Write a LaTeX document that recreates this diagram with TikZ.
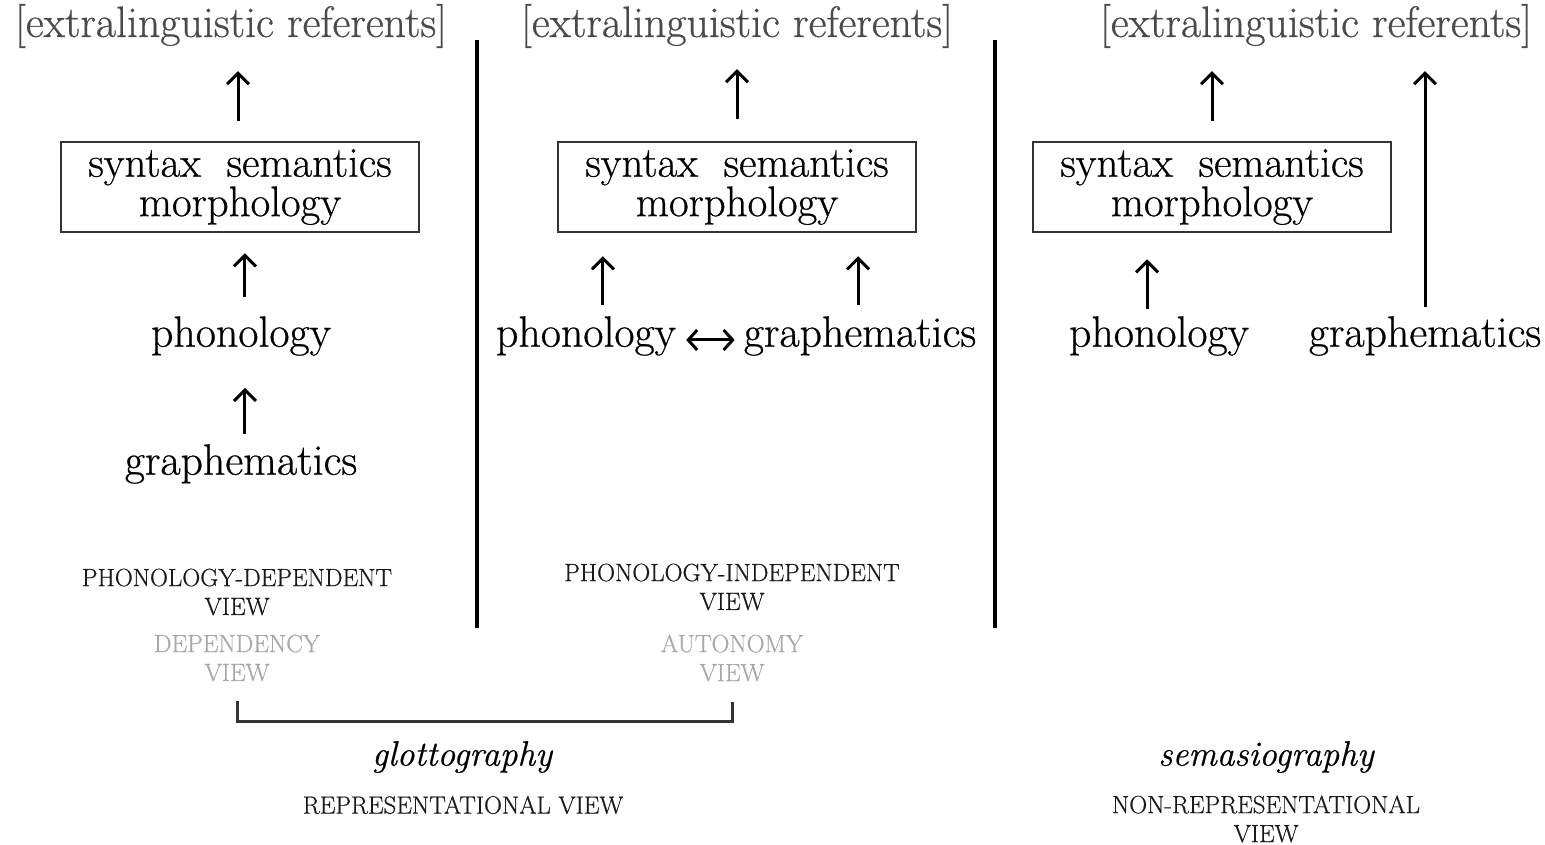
\documentclass[tikz,border=0pt]{standalone}
\usepackage{fontspec}
\setmainfont{Latin Modern Roman}
\newfontfamily\heavyfont{Latin Modern Roman}[FakeBold=0.6]
\usetikzlibrary{arrows.meta}
\definecolor{refgray}{HTML}{4A4A4A}
\definecolor{capgray}{HTML}{A8A8A8}
\definecolor{capblack}{HTML}{1A1A1A}
\definecolor{boxc}{HTML}{333333}
\begin{document}
\begin{tikzpicture}[x=1bp,y=-1bp,
  main/.style={font=\heavyfont\fontsize{44}{35}\selectfont, inner sep=0pt, text=black, align=center},
  ref/.style={main, text=refgray},
  boxtext/.style={font=\heavyfont\fontsize{43}{33}\selectfont, inner sep=0pt, text=black, align=center},
  captxt/.style={font=\heavyfont\fontsize{25}{29}\selectfont, inner sep=0pt, align=center, text=capblack},
  capgr/.style={captxt, text=capgray},
  ital/.style={font=\heavyfont\fontsize{35.5}{40}\selectfont\itshape, inner sep=0pt},
  levelbox/.style={boxtext, draw=boxc, line width=2.5bp, minimum width=358bp, minimum height=90bp},
  arr/.style={line width=3bp, -{Straight Barb[length=11bp,width=22bp]}},
  darr/.style={line width=3bp, {Straight Barb[length=9bp,width=20bp]}-{Straight Barb[length=9bp,width=20bp]}},
  divider/.style={line width=4bp},
  bracket/.style={line width=3bp, draw=boxc}
]
\useasboundingbox (0,0) rectangle (1545,844);

% ---- left column
\node[ref] (r1) at (231,26) {[extralinguistic referents]};
\node[levelbox] (b1) at (240,187) {syntax\hspace{0.6em}semantics\\morphology};
\node[main] (p1) at (241,336) {phonology};
\node[main] (g1) at (241,464) {graphematics};
\node[captxt] (c1) at (237,592) {PHONOLOGY-DEPENDENT\\VIEW};
\node[capgr] (d1) at (237,658) {DEPENDENCY\\VIEW};

\draw[arr, shorten <=20bp, shorten >=23bp] ([xshift=-2]b1.north) -- ([xshift=-2]b1.north |- r1.south);
\draw[arr, shorten <=19bp, shorten >=20bp] ([xshift=4]p1.north) -- ([xshift=4]p1.north |- b1.south);
\draw[arr, shorten <=10bp, shorten >=32bp] ([xshift=4]g1.north) -- ([xshift=4]g1.north |- p1.south);

% ---- middle column
\node[ref] (r2) at (737,26) {[extralinguistic referents]};
\node[levelbox] (b2) at (737,187) {syntax\hspace{0.6em}semantics\\morphology};
\node[main] (p2) at (586,336) {phonology};
\node[main] (g2) at (860,336) {graphematics};
\node[captxt] (c2) at (732,587) {PHONOLOGY-INDEPENDENT\\VIEW};
\node[capgr] (d2) at (732,658) {AUTONOMY\\VIEW};

\draw[arr, shorten <=22bp, shorten >=21bp] (b2.north) -- (b2.north |- r2.south);
\draw[arr, shorten <=11bp, shorten >=23bp] ([xshift=17]p2.north) -- ([xshift=17]p2.north |- b2.south);
\draw[arr, shorten <=11bp, shorten >=23bp] ([xshift=-2]g2.north) -- ([xshift=-2]g2.north |- b2.south);
\draw[darr, shorten <=10bp, shorten >=9bp] ([yshift=-4]p2.east) -- ([yshift=-4]g2.west);

% ---- right column
\node[ref] (r3) at (1316,26) {[extralinguistic referents]};
\node[levelbox] (b3) at (1212,187) {syntax\hspace{0.6em}semantics\\morphology};
\node[main] (p3) at (1159,336) {phonology};
\node[main] (g3) at (1425,336) {graphematics};

\draw[arr, shorten <=20bp, shorten >=23bp] (b3.north) -- (b3.north |- r3.south);
\draw[arr, shorten <=7bp, shorten >=26bp] ([xshift=-12]p3.north) -- ([xshift=-12]p3.north |- b3.south);
\draw[arr, shorten <=9bp, shorten >=23bp] (g3.north) -- (g3.north |- r3.south);

% ---- dividers
\draw[divider] (477,40) -- (477,628);
\draw[divider] (995,40) -- (995,628);

% ---- bottom
\draw[bracket] ([yshift=-20]d1.south) -- ++(0,20) -| ([yshift=-20]d2.south);
\node[ital] (gl) at (462,757) {glottography};
\node[captxt] (rv) at (463,805) {REPRESENTATIONAL VIEW};
\node[ital] (se) at (1266,757) {semasiography};
\node[captxt] (nrv) at (1266,819) {NON-REPRESENTATIONAL\\VIEW};
\end{tikzpicture}
\end{document}
